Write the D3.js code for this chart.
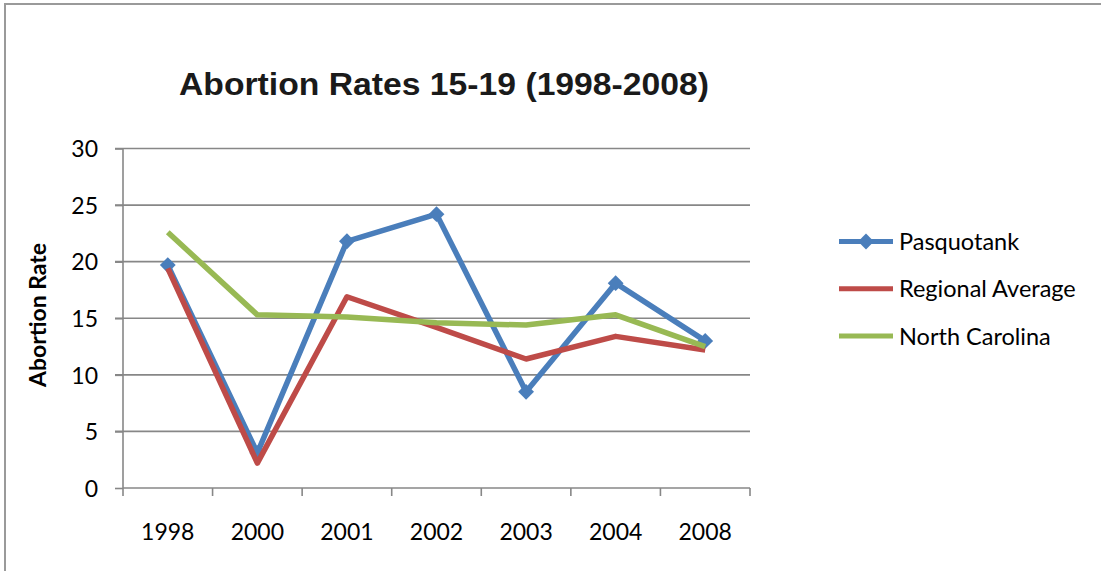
<!DOCTYPE html>
<html>
<head>
<meta charset="utf-8">
<script src="https://cdn.jsdelivr.net/npm/d3@7"></script>
<style>
  body { margin: 0; background: #fff; }
  text { font-family: Lato, "Noto Sans", sans-serif; }
</style>
</head>
<body>
<svg id="chart" width="1101" height="571"></svg>
<script>
const years = ['1998', '2000', '2001', '2002', '2003', '2004', '2008'];
const pasquotank = [19.7, 3.1, 21.8, 24.2, 8.5, 18.1, 13.0];
const regional = [19.4, 2.2, 16.9, 14.2, 11.4, 13.4, 12.2];
const northCarolina = [22.6, 15.3, 15.1, 14.6, 14.4, 15.3, 12.5];
const yTicks = [0, 5, 10, 15, 20, 25, 30];

const series = [
  { name: 'Pasquotank', values: pasquotank, color: '#4A7EBB', marker: true },
  { name: 'Regional Average', values: regional, color: '#BE4B48', marker: false },
  { name: 'North Carolina', values: northCarolina, color: '#98B954', marker: false }
];

const svg = d3.select('#chart');

// outer chart border
svg.append('rect')
  .attr('x', 5).attr('y', 4)
  .attr('width', 1200).attr('height', 700)
  .attr('fill', 'none')
  .attr('stroke', '#9a9a9a')
  .attr('stroke-width', 2);

const plot = { left: 123, right: 750, top: 148.5, bottom: 488 };

const x = d3.scaleBand()
  .domain(years)
  .range([plot.left, plot.right]);

const y = d3.scaleLinear()
  .domain([0, 30])
  .range([plot.bottom, plot.top]);

// gridlines
svg.append('g')
  .selectAll('line')
  .data(yTicks.filter(d => d > 0))
  .enter().append('line')
  .attr('x1', plot.left - 8).attr('x2', plot.right)
  .attr('y1', d => y(d)).attr('y2', d => y(d))
  .attr('stroke', '#878787')
  .attr('stroke-width', 1.6);

// y axis
const yAxis = svg.append('g')
  .attr('transform', `translate(${plot.left},0)`)
  .call(d3.axisLeft(y).tickValues(yTicks).tickSize(8).tickPadding(17));
yAxis.selectAll('line').attr('stroke', '#878787').attr('stroke-width', 1.6);
yAxis.select('.domain').attr('stroke', '#878787').attr('stroke-width', 1.6)
  .attr('d', `M0,${plot.top}V${plot.bottom}`);
yAxis.selectAll('text')
  .style('font-size', '23px').attr('fill', '#000').attr('dy', '0.36em');

// x axis: ticks on band boundaries
const bounds = years.map(d => x(d)).concat([plot.right]);
svg.append('line')
  .attr('x1', plot.left).attr('x2', plot.right)
  .attr('y1', plot.bottom).attr('y2', plot.bottom)
  .attr('stroke', '#878787').attr('stroke-width', 1.6);
svg.append('g')
  .selectAll('line')
  .data(bounds)
  .enter().append('line')
  .attr('x1', d => d).attr('x2', d => d)
  .attr('y1', plot.bottom).attr('y2', plot.bottom + 8)
  .attr('stroke', '#878787').attr('stroke-width', 1.6);
svg.append('g')
  .selectAll('text')
  .data(years)
  .enter().append('text')
  .attr('x', d => x(d) + x.bandwidth() / 2)
  .attr('y', 540)
  .attr('text-anchor', 'middle')
  .style('font-size', '23px')
  .text(d => d);

// lines
const line = d3.line()
  .x((d, i) => x(years[i]) + x.bandwidth() / 2)
  .y(d => y(d));

const diamond = d3.symbol().type(d3.symbolDiamond2).size(160);

series.forEach(s => {
  svg.append('path')
    .attr('d', line(s.values))
    .attr('fill', 'none')
    .attr('stroke', s.color)
    .attr('stroke-width', 5.5)
    .attr('stroke-linejoin', 'round');
  if (s.marker) {
    svg.append('g')
      .selectAll('path')
      .data(s.values)
      .enter().append('path')
      .attr('d', diamond)
      .attr('transform', (d, i) => `translate(${x(years[i]) + x.bandwidth() / 2},${y(d)})`)
      .attr('fill', s.color);
  }
});

// title
svg.append('text')
  .attr('x', 444).attr('y', 95)
  .attr('text-anchor', 'middle')
  .attr('textLength', 530)
  .attr('lengthAdjust', 'spacingAndGlyphs')
  .style('font-family', '"Liberation Sans", Arial, sans-serif')
  .style('font-weight', 'bold')
  .style('font-size', '31px')
  .attr('fill', '#1a1a1a')
  .text('Abortion Rates 15-19 (1998-2008)');

// y axis title
svg.append('text')
  .attr('transform', 'translate(46,315) rotate(-90)')
  .attr('text-anchor', 'middle')
  .attr('textLength', 144)
  .attr('lengthAdjust', 'spacingAndGlyphs')
  .style('font-weight', 'bold')
  .style('font-size', '22px')
  .text('Abortion Rate');

// legend
const legend = svg.append('g')
  .selectAll('g')
  .data(series)
  .enter().append('g')
  .attr('transform', (d, i) => `translate(839,${241.5 + i * 47.3})`);
legend.append('line')
  .attr('x1', 0).attr('x2', 54)
  .attr('stroke', d => d.color)
  .attr('stroke-width', 5);
legend.filter(d => d.marker).append('path')
  .attr('d', diamond)
  .attr('transform', 'translate(27,0)')
  .attr('fill', d => d.color);
legend.append('text')
  .attr('x', 60).attr('dy', '0.36em')
  .style('font-size', '23.5px')
  .text(d => d.name);
</script>
</body>
</html>
